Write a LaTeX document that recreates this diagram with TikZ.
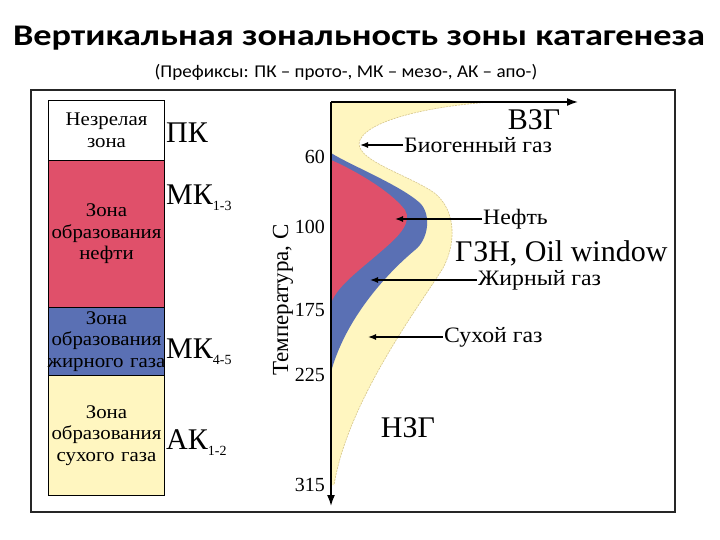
\documentclass[tikz,border=0pt]{standalone}
\usepackage{fontspec}
\setmainfont{Liberation Serif}
\newfontfamily\titlefont{Carlito}
\newfontfamily\wideserif[FakeStretch=1.08]{Liberation Serif}
\newfontfamily\wideserifb[FakeStretch=1.08]{Liberation Serif}
\usetikzlibrary{arrows.meta}
\definecolor{zred}{HTML}{E0506A}
\definecolor{zblue}{HTML}{5A70B4}
\definecolor{zyel}{HTML}{FFF6C0}
\definecolor{zedge}{HTML}{D6C68C}
\newcommand{\zsub}[1]{{\fontsize{14}{14}\selectfont\raisebox{-6pt}{#1}}}
\begin{document}
\begin{tikzpicture}[x=1pt,y=-1pt,
  zonebox/.style={draw, line width=1pt, text width=116pt, anchor=north west, align=center, inner sep=0pt,
    font=\wideserif\fontsize{19.3}{21.5}\selectfont},
  biglbl/.style={font=\fontsize{30}{32}\selectfont, inner sep=0pt},
  lbl/.style={font=\wideserifb\fontsize{22}{23}\selectfont, inner sep=1pt},
  tick/.style={font=\fontsize{20}{22}\selectfont, inner sep=0pt, anchor=east},
  ptr/.style={line width=1.3pt, -{Latex[length=8pt,width=6pt]}},
  axis/.style={line width=1.6pt, -{Latex[length=11pt,width=8pt]}}]
\useasboundingbox (0,0) rectangle (720,540);
\fill[white] (0,0) rectangle (720,540);

% title
\node[font=\titlefont\bfseries\fontsize{30}{34}\selectfont, inner sep=0pt] (title) at (359,38) {\scalebox{1.21}[1]{Вертикальная зональность зоны катагенеза}};
\node[font=\titlefont\fontsize{18}{20}\selectfont, inner sep=0pt] (sub) at (346,72) {\scalebox{1.06}[1]{(Префиксы: ПК – прото-, МК – мезо-, АК – апо-)}};

% frame
\draw[line width=1.3pt, black!85] (31,90) rectangle (675,512);

% left column
\node[zonebox, fill=white, minimum height=60pt] (z1) at (48,100) {Незрелая\\зона};
\node[zonebox, fill=zred, minimum height=147pt] (z2) at (48,160) {Зона\\образования\\нефти};
\node[zonebox, fill=zblue, minimum height=68pt] (z3) at (48,307) {Зона\\образования\\\makebox[116pt][c]{жирного газа}};
\node[zonebox, fill=zyel, minimum height=120pt] (z4) at (48,375) {Зона\\образования\\сухого газа};

\node[biglbl, anchor=west] (pk) at (166,133) {ПК};
\node[biglbl, anchor=west] (mk1) at (166,198) {МК\zsub{1-3}};
\node[biglbl, anchor=west] (mk2) at (166,352) {МК\zsub{4-5}};
\node[biglbl, anchor=west] (ak) at (166,443) {АК\zsub{1-2}};

% zones on the graph
\fill[zyel] (331,102) -- (493,102)
  .. controls (440,105) and (370,118) .. (360,140)
  .. controls (352,158) and (400,172) .. (430,190)
  .. controls (455,205) and (458,240) .. (443,268)
  .. controls (420,305) and (348,400) .. (334,485)
  -- (331,485) -- cycle;
\draw[zedge, line width=0.6pt, dash pattern=on 2pt off 1pt] (493,102)
  .. controls (440,105) and (370,118) .. (360,140)
  .. controls (352,158) and (400,172) .. (430,190)
  .. controls (455,205) and (458,240) .. (443,268)
  .. controls (420,305) and (348,400) .. (334,485);
\fill[zblue] (331,153)
  .. controls (350,165) and (400,185) .. (420,203)
  .. controls (432,215) and (428,240) .. (415,250)
  .. controls (385,275) and (345,320) .. (331,372) -- cycle;
\fill[zred] (331,160)
  .. controls (350,168) and (390,190) .. (405,210)
  .. controls (412,222) and (400,235) .. (385,248)
  .. controls (360,270) and (338,285) .. (331,303) -- cycle;

% axes
\coordinate (o) at (331,102);
\coordinate (xend) at (578,102);
\coordinate (yend) at (331,506);
\draw[axis] (o) -- (xend);
\draw[axis] (o) -- (yend);

% ticks
\node[tick] (t60) at (325,157) {60};
\node[tick] (t100) at (325,227) {100};
\node[tick] (t175) at (325,310) {175};
\node[tick] (t225) at (325,375) {225};
\node[tick] (t315) at (325,485) {315};
\node[font=\fontsize{23}{25}\selectfont, rotate=90, inner sep=0pt] (ylab) at (283,300) {Температура, С};

% labels
\node[biglbl] (vzg) at (534,120) {ВЗГ};
\node[biglbl, anchor=west] (gzn) at (455,253) {ГЗН, Oil window};
\node[biglbl] (nzg) at (408,428) {НЗГ};

\node[lbl, anchor=west] (bio) at (403,145) {Биогенный газ};
\coordinate (biot) at (360,145);
\draw[ptr] (bio.west) -- (biot);
\node[lbl, anchor=west] (oil) at (482,219) {Нефть};
\coordinate (oilt) at (395,219);
\draw[ptr] (oil.west) -- (oilt);
\node[lbl, anchor=west] (fat) at (477,280) {Жирный газ};
\coordinate (fatt) at (370,280);
\draw[ptr] (fat.west) -- (fatt);
\node[lbl, anchor=west] (dry) at (443,337) {Сухой газ};
\coordinate (dryt) at (368,337);
\draw[ptr] (dry.west) -- (dryt);
\end{tikzpicture}
\end{document}
